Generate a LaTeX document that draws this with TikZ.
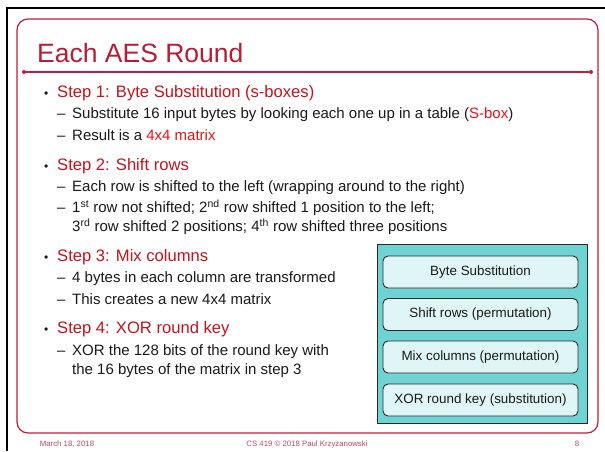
\documentclass[tikz,border=0pt]{standalone}
\usepackage{fontspec}
\setmainfont{Liberation Sans}
\definecolor{framered}{RGB}{192,32,62}
\definecolor{titlered}{RGB}{181,30,56}
\definecolor{stepred}{RGB}{196,20,28}
\definecolor{hired}{RGB}{232,22,24}
\definecolor{bodytext}{RGB}{26,26,26}
\definecolor{footred}{RGB}{196,72,100}
\definecolor{tealfill}{RGB}{111,211,211}
\definecolor{boxfill}{RGB}{224,245,245}
\definecolor{boxline}{RGB}{40,40,40}
\tikzset{
  head/.style={anchor=base west, inner sep=0pt, text=stepred, font=\fontsize{16.6}{20}\selectfont},
  body/.style={anchor=base west, inner sep=0pt, text=bodytext, font=\fontsize{15}{18}\selectfont},
  bul/.style={anchor=base west, inner sep=0pt, text=bodytext, font=\fontsize{12}{14}\selectfont},
  dsh/.style={anchor=base west, inner sep=0pt, text=bodytext, font=\fontsize{15}{18}\selectfont},
  stage/.style={draw=boxline, line width=0.9pt, fill=boxfill, rounded corners=5pt,
    minimum width=195pt, minimum height=32pt, inner sep=0pt, text=bodytext,
    font=\fontsize{13.4}{16}\selectfont},
  foot/.style={anchor=base, inner sep=0pt, text=footred, font=\fontsize{7.8}{9}\selectfont}
}
\begin{document}
\begin{tikzpicture}[x=1pt,y=-1pt]
\useasboundingbox (0,0) rectangle (605,451);
\fill[white] (0,0) rectangle (605,451);
% outer slide edge
\draw[black, line width=2pt] (7,451) -- (7,8) -- (605,8);
% slide frame
\draw[framered, line width=1.2pt, rounded corners=11pt] (17,19) rectangle (598,433);
% title and rule
\node[anchor=base west, inner sep=0pt, text=titlered, font=\fontsize{26.5}{30}\selectfont] (title) at (37,62) {Each AES Round};
\coordinate (ruleL) at (24,72);
\coordinate (ruleR) at (591,72);
\draw[framered, line width=1.3pt] (ruleL) -- (ruleR);
\fill[framered] (ruleL) circle (2pt) (ruleR) circle (2pt);
% step 1
\node[bul] (b1) at (44,97) {•};
\node[head] (s1) at (57,97) {Step 1: Byte Substitution (s-boxes)};
\node[dsh] (d11) at (57,118) {–};
\node[body] (t11) at (72,118) {Substitute 16 input bytes by looking each one up in a table (\textcolor{hired}{S-box})};
\node[dsh] (d12) at (57,140) {–};
\node[body] (t12) at (72,140) {Result is a \textcolor{hired}{4x4 matrix}};
% step 2
\node[bul] (b2) at (44,170) {•};
\node[head] (s2) at (57,170) {Step 2: Shift rows};
\node[dsh] (d21) at (57,191.7) {–};
\node[body] (t21) at (72,191.7) {Each row is shifted to the left (wrapping around to the right)};
\node[dsh] (d22) at (57,212.7) {–};
\node[body] (t22) at (72,212.7) {1\textsuperscript{st} row not shifted; 2\textsuperscript{nd} row shifted 1 position to the left;};
\node[body] (t23) at (72,231.7) {3\textsuperscript{rd} row shifted 2 positions; 4\textsuperscript{th} row shifted three positions};
% step 3
\node[bul] (b3) at (44,261) {•};
\node[head] (s3) at (57,261) {Step 3: Mix columns};
\node[dsh] (d31) at (57,282.7) {–};
\node[body] (t31) at (72,282.7) {4 bytes in each column are transformed};
\node[dsh] (d32) at (57,304.3) {–};
\node[body] (t32) at (72,304.3) {This creates a new 4x4 matrix};
% step 4
\node[bul] (b4) at (44,333.3) {•};
\node[head] (s4) at (57,333.3) {Step 4: XOR round key};
\node[dsh] (d41) at (57,355.7) {–};
\node[body] (t41) at (72,355.7) {XOR the 128 bits of the round key with};
\node[body] (t42) at (72,374.3) {the 16 bytes of the matrix in step 3};
% round structure panel
\draw[boxline, line width=1pt, fill=tealfill] (377,244) rectangle (587,423);
\node[stage] (bs) at (480.5,272) {Byte Substitution};
\node[stage] (sr) at (480.5,314.5) {Shift rows (permutation)};
\node[stage] (mc) at (480.5,357) {Mix columns (permutation)};
\node[stage] (xr) at (480.5,400) {XOR round key (substitution)};
% footer
\node[foot] (date) at (67,446) {March 18, 2018};
\node[foot] (course) at (307,446) {CS 419 © 2018 Paul Krzyzanowski};
\node[foot] (page) at (577,446) {8};
\end{tikzpicture}
\end{document}
